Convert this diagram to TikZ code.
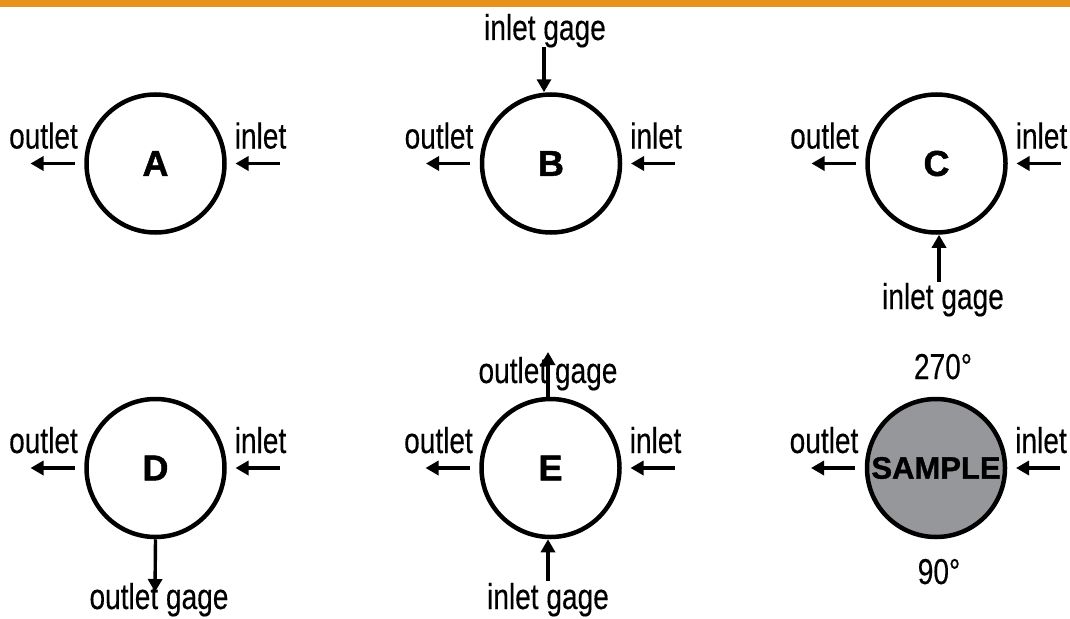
\documentclass[tikz,border=0pt]{standalone}
\usepackage{fontspec}
\setmainfont{Liberation Sans}
\newfontfamily\condfont[FakeStretch=0.78,FakeBold=0.3]{Liberation Sans}
\newfontfamily\heavyfont[BoldFeatures={FakeBold=1.2}]{Liberation Sans}
\usetikzlibrary{arrows.meta}
\definecolor{barorange}{RGB}{232,146,30}
\definecolor{samplegray}{RGB}{150,151,155}
\begin{document}
\begin{tikzpicture}[x=1pt,y=-1pt,
  disk/.style={circle,draw=black,line width=4.5pt,minimum size=138pt,inner sep=0pt,
    font=\heavyfont\fontsize{36}{36}\selectfont\bfseries},
  lbl/.style={font=\condfont\fontsize{36}{36}\selectfont,inner sep=0pt,anchor=base},
  flow/.style={line width=3.4pt,-{Triangle[length=13pt,width=14pt]}}]
\useasboundingbox (0,0) rectangle (1070,618);
\fill[barorange] (0,0) rectangle (1070,7);

% disks
\node[disk] (A) at (155.5,163.5) {A};
\node[disk] (B) at (551,163.5) {B};
\node[disk] (C) at (936.5,163.5) {C};
\node[disk] (D) at (155.5,468) {D};
\node[disk] (E) at (550.5,468) {E};
\node[disk,fill=samplegray,font=\heavyfont\fontsize{31}{31}\selectfont\bfseries] (S) at (936,468) {SAMPLE};

% outlet / inlet labels and arrows for every disk
\foreach \n in {A,B,C,D,E,S}{
  \node[lbl] (\n ol) at ([shift={(-112,-15)}]\n.center) {outlet};
  \node[lbl] (\n il) at ([shift={(105,-15)}]\n.center) {inlet};
  \coordinate (\n os) at ([shift={(-81,0)}]\n.center);
  \coordinate (\n ot) at ([shift={(-125,0)}]\n.center);
  \coordinate (\n is) at ([shift={(124,0)}]\n.center);
  \coordinate (\n it) at ([shift={(80,0)}]\n.center);
  \draw[flow] (\n os) -- (\n ot);
  \draw[flow] (\n is) -- (\n it);
}

% B: inlet gage from the top
\node[lbl] (Bg) at (545,40) {inlet gage};
\coordinate (Bgs) at (544,47);
\draw[flow] (Bgs) -- ([xshift=-7pt]B.north);

% C: inlet gage from below
\node[lbl] (Cg) at (943,309) {inlet gage};
\coordinate (Cgs) at (939,282);
\draw[flow] (Cgs) -- ([xshift=2.5pt]C.south);

% D: outlet gage below
\node[lbl] (Dg) at (159,609) {outlet gage};
\coordinate (Dgt) at (155,592);
\draw[flow] (D.south) -- (Dgt);

% E: outlet gage above, inlet gage below
\node[lbl] (Eog) at (548,383) {outlet gage};
\coordinate (Eogt) at (548,352);
\draw[flow] ([xshift=-2.5pt]E.north) -- (Eogt);
\node[lbl] (Eig) at (548,609) {inlet gage};
\coordinate (Eigs) at (548,581);
\draw[flow] (Eigs) -- ([xshift=-2.5pt]E.south);

% SAMPLE angles
\node[lbl] (S270) at (943,379) {270°};
\node[lbl] (S90) at (939,584) {90°};
\end{tikzpicture}
\end{document}
